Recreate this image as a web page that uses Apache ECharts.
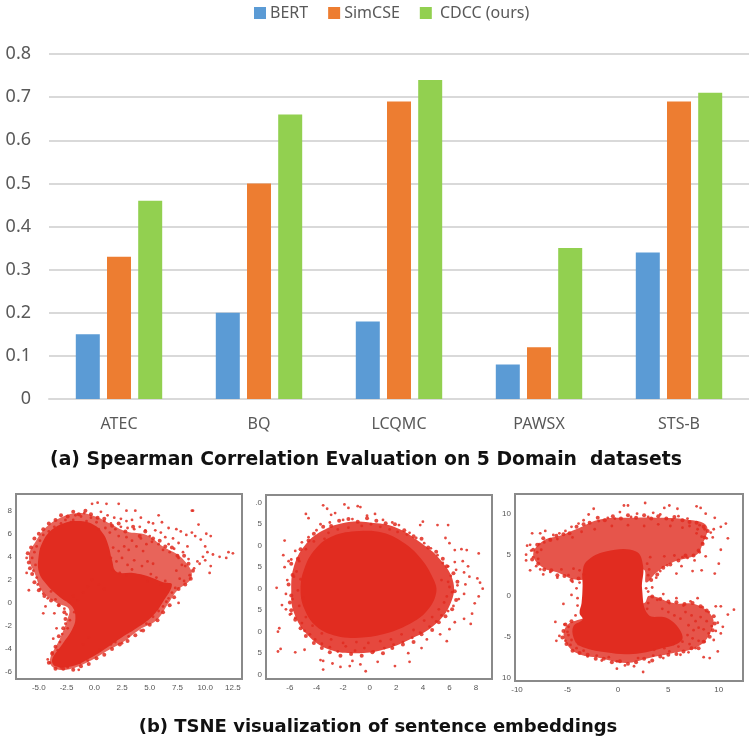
<!DOCTYPE html>
<html><head><meta charset="utf-8">
<style>html,body{margin:0;padding:0;background:#fff}#c{width:749px;height:740px;filter:blur(0.45px)}</style>
<script src="https://cdn.jsdelivr.net/npm/echarts@6/dist/echarts.min.js"></script></head>
<body><div id="c"></div>
<script>
const categories=['ATEC','BQ','LCQMC','PAWSX','STS-B'];
const bert=[0.15,0.2,0.18,0.08,0.34];
const simcse=[0.33,0.5,0.69,0.12,0.69];
const cdcc=[0.46,0.66,0.74,0.35,0.71];
const barTicks=[0,0.1,0.2,0.3,0.4,0.5,0.6,0.7,0.8];

const x1Ticks=[-5,-2.5,0,2.5,5,7.5,10,12.5];
const x1Labels=['-5.0','-2.5','0.0','2.5','5.0','7.5','10.0','12.5'];
const y1Ticks=[8,6,4,2,0,-2,-4,-6];
const y1Labels=['8','6','4','2','0','-2','-4','-6'];
const x2Ticks=[-6,-4,-2,0,2,4,6,8];
const x2Labels=['-6','-4','-2','0','2','4','6','8'];
const y2Ticks=[10,7.5,5,2.5,0,-2.5,-5,-7.5,-10];
const y2Labels=['.0','5','0','5','0','5','0','5','0'];
const x3Ticks=[-10,-5,0,5,10];
const x3Labels=['-10','-5','0','5','10'];
const y3Ticks=[10,5,0,-5,-10];
const y3Labels=['10','5','0','-5','10'];

const core1=[[-5.0,4.2],[-4.7,5.2],[-4.0,6.2],[-2.8,6.9],[-1.4,7.1],[-0.1,6.8],[0.8,6.0],[1.3,4.9],[1.6,3.7],[2.0,2.7],[3.5,2.6],[4.9,2.3],[6.2,1.8],[7.0,1.6],[6.2,0.1],[5.2,-1.2],[3.8,-2.2],[2.3,-3.1],[1.1,-3.9],[-0.4,-4.8],[-2.0,-5.5],[-3.5,-5.5],[-3.8,-4.9],[-2.9,-3.6],[-2.0,-2.3],[-1.7,-1.3],[-2.0,-0.3],[-3.1,0.5],[-4.3,1.6],[-5.0,2.7]];
const mid1=[[-5.9,4.0],[-5.3,5.3],[-4.3,6.6],[-2.8,7.5],[-1.3,7.8],[0.1,7.5],[1.4,6.9],[2.9,6.2],[4.7,5.9],[6.2,4.9],[7.9,3.9],[8.8,2.3],[7.4,1.0],[6.7,0],[5.6,-1.5],[4.1,-2.3],[2.6,-3.4],[1.1,-4.2],[-0.7,-5.2],[-2.5,-5.8],[-3.7,-5.6],[-4.0,-4.9],[-3.1,-3.1],[-2.5,-1.6],[-2.3,-0.5],[-3.4,0],[-4.7,1.0],[-5.3,2.4]];
const edge1=[[-5.9,3.5],[-6.0,4.3],[-5.7,4.8],[-5.4,5.6],[-5.0,6.0],[-4.6,6.4],[-4.1,6.9],[-3.5,7.2],[-3.0,7.6],[-2.4,7.5],[-1.9,7.9],[-1.4,7.7],[-0.8,8.0],[-0.3,7.7],[0.3,7.4],[0.9,7.3],[1.6,6.7],[2.2,6.9],[2.8,6.2],[3.5,6.6],[4.1,5.8],[4.6,6.2],[5.3,5.6],[5.9,5.4],[6.4,4.9],[7.0,4.8],[7.5,4.1],[8.1,4.1],[8.5,3.4],[8.9,2.8],[8.7,2.1],[8.2,1.6],[7.6,1.2],[7.2,0.5],[6.8,-0.2],[6.2,-0.8],[5.7,-1.5],[5.0,-1.9],[4.4,-2.4],[3.7,-2.8],[3.0,-3.3],[2.3,-3.6],[1.6,-4.0],[0.9,-4.5],[0.2,-4.8],[-0.5,-5.3],[-1.2,-5.5],[-1.9,-5.8],[-2.8,-5.7],[-3.5,-5.7],[-4.1,-5.2],[-3.8,-4.4],[-3.5,-3.8],[-3.2,-2.9],[-2.8,-2.2],[-2.6,-1.4],[-2.7,-0.8],[-3.2,-0.2],[-3.9,0.2],[-4.5,0.6],[-5.0,1.1],[-5.4,1.8],[-5.6,2.5],[-5.8,3.0]];
const pts1=[[-0.2,8.6],[0.3,8.7],[1.1,8.6],[2.2,8.6],[8.8,8.0],[8.9,8.0],[2.9,8.0],[3.7,8.0],[5.8,7.6],[9.4,6.8],[12.5,4.3],[12.1,4.4],[11.9,3.9],[11.3,4.0],[10.1,6.0],[10.5,5.8],[10.5,3.2],[10.4,2.6],[7.6,0.0],[2.5,-3.5],[-1.4,-5.8],[-6.1,2.6],[-5.9,1.1],[-6.1,3.9],[-4.6,-0.9],[-3.7,-3.1],
[0.6,7.9],[1.2,7.6],[1.8,7.4],[2.4,7.3],[2.9,7.1],[3.4,7.2],[4.2,7.4],[4.9,7.0],[5.3,6.9],[6.1,7.0],[6.7,6.5],[7.4,6.4],[7.8,6.2],[8.3,5.9],[8.8,6.1],[9.1,5.8],[9.6,5.5],[10.0,4.9],[10.7,4.2],[10.2,4.4],[9.8,4.0],[9.3,3.6],[9.0,3.0],[8.6,2.4],[8.2,3.2],[8.0,4.4],[8.4,4.9],[7.6,5.2],[7.1,5.6],[6.7,5.1],[6.4,5.7],[6.0,6.1],[5.5,6.3],[5.0,5.8],[4.6,6.3],[4.1,6.6],[3.6,6.4],[3.0,6.5],[2.4,6.6],[1.9,6.4],[1.4,6.1],[1.0,6.5],[0.9,7.1],[1.5,6.9],[2.2,5.8],[2.9,5.7],[3.4,5.4],[4.2,5.6],[4.7,5.1],[5.2,5.3],[5.8,5.1],[6.2,4.6],[6.8,4.4],[7.2,4.7],[7.6,3.9],[7.9,3.3],[7.4,2.8],[7.7,2.1],[8.1,1.9],[7.3,1.3],[7.0,0.9],[6.7,0.4],[8.5,3.8],[9.5,3.4],[10.0,3.7],[1.7,4.8],[2.2,4.5],[2.7,4.9],[3.1,4.6],[3.8,4.9],[4.4,4.5],[1.5,3.9],[2.0,3.6],[2.5,3.9],[3.0,3.3],[3.6,3.7],[1.7,2.8],[2.3,2.6],[2.9,2.4],[3.4,2.9],[4.3,3.2],[4.8,3.6],[5.3,3.4],
[-5.4,4.4],[-5.6,3.9],[-5.3,3.3],[-5.5,2.8],[-5.2,2.2],[-5.1,1.6],[-4.9,1.2],[-4.6,0.8],[-4.2,0.4],[-3.9,1.0],[-3.5,0.3],[-3.2,-0.2],[-2.7,-0.5],[-2.5,-1.0],[-2.2,-1.5],[-2.4,-2.2],[-2.9,-2.7],[-3.1,-3.4],[-3.3,-4.1],[-3.8,-4.3],[-4.2,-4.9],[-4.0,-5.2],[-5.2,4.9],[-4.9,5.4],[-4.6,5.9],[-4.1,6.2],[-3.6,6.6],[-3.0,6.9],[-2.6,7.2],[-2.1,7.0],[-1.7,7.6],[-1.2,7.5],[-0.7,7.1],[-0.3,7.4],[0.2,7.0],[0.4,6.4],[-1.9,7.2],[-0.9,7.8],[-4.4,-0.3],[-3.6,-0.9],[-2.6,-1.8],[-3.4,-2.2],[-1.8,-0.8],[-2.3,0.1],[-1.5,0.2],[-1.0,0.9],[-1.9,0.6],[-0.6,1.4],[-0.2,2.0],[0.4,1.6],[0.9,1.2],[-0.5,-3.0],[-1.0,-3.6],[0.5,-4.1],[1.5,-3.6],[1.9,-3.4],[-0.6,-5.0],[-1.3,-5.2],[-2.4,-5.6],[-3.0,-5.6],[3.1,-2.9],[4.2,-2.4],[4.7,-1.8],[5.3,-1.2],[5.8,-0.7],[6.2,-0.3],[6.5,0.1],[6.0,1.6],[6.4,1.9],[4.8,1.9],[5.6,2.2],[5.1,2.5],[4.4,2.3]];

const core2=[[-5.2,-0.1],[-4.9,2.4],[-4.1,4.6],[-2.8,6.1],[-0.8,6.7],[1.0,6.5],[2.5,5.4],[3.8,3.6],[4.8,1.1],[5.0,-0.5],[4.3,-2.6],[3.0,-4.1],[1.0,-5.3],[-0.8,-5.7],[-2.5,-5.5],[-4.0,-4.4],[-4.9,-2.4]];
const mid2=[[-5.9,-0.1],[-5.7,2.6],[-4.9,5.0],[-3.6,6.7],[-1.8,7.7],[0,7.7],[2.0,7.1],[3.8,5.4],[5.3,3.4],[6.3,0.7],[6.0,-2.0],[4.8,-4.3],[3.0,-5.9],[1.0,-7.1],[-1.0,-7.5],[-3.0,-7.1],[-4.6,-5.5],[-5.7,-2.8]];
const edge2=[[-5.9,-0.8],[-6.1,0.5],[-5.8,1.6],[-5.9,2.9],[-5.4,3.5],[-5.2,4.6],[-4.6,5.6],[-4.2,6.4],[-3.5,7.2],[-2.9,7.3],[-2.3,7.9],[-1.6,8.1],[-0.9,7.8],[-0.2,8.2],[0.5,7.9],[1.2,7.6],[1.9,7.5],[2.6,6.8],[3.3,6.1],[3.9,5.8],[4.4,4.8],[5.0,4.3],[5.5,3.5],[5.8,2.6],[6.3,1.8],[6.6,0.8],[6.4,-0.3],[6.5,-1.3],[6.2,-2.4],[5.7,-3.2],[5.2,-3.9],[4.7,-4.8],[3.9,-5.3],[3.3,-6.2],[2.5,-6.5],[1.7,-6.9],[1.0,-7.5],[0.2,-7.4],[-0.6,-7.8],[-1.4,-7.6],[-2.2,-7.8],[-3.0,-7.4],[-3.6,-6.9],[-4.2,-6.3],[-4.8,-5.5],[-5.2,-4.6],[-5.6,-3.6],[-5.9,-2.5],[-6.0,-1.6]];
const pts2=[[-3.5,9.7],[-3.2,9.3],[-2.6,8.8],[-1.9,9.8],[-1.6,9.4],[-0.9,9.6],[-0.7,9.5],[-2.9,8.6],[-4.8,8.7],[-4.6,8.2],[-6.4,5.6],[-6.5,3.9],[-6.1,3.2],[-6.4,2.5],[-6.2,1.0],[-7.0,0.1],[-6.3,-0.6],[-6.6,-1.9],[-6.3,-2.4],[-5.9,-2.9],[-6.0,-3.0],[-6.8,-4.6],[-6.9,-5.0],[-6.9,-7.3],[-6.7,-7.0],[-5.6,-7.4],[-4.9,-7.1],[-3.7,-8.3],[-3.5,-8.4],[-3.5,-9.4],[-2.8,-8.7],[-2.2,-9.1],[-1.5,-9.0],[-1.3,-8.4],[-0.3,-9.6],[-0.7,-8.8],[0.6,-8.5],[1.9,-9.0],[3.0,-8.5],[2.9,-7.5],[3.9,-6.9],[4.3,-5.9],[5.3,-5.3],[5.8,-6.1],[6.0,-4.7],[6.4,-3.9],[7.1,-3.5],[7.6,-4.1],[7.7,-2.9],[7.9,-1.7],[8.2,-0.9],[8.5,0],[8.3,0.7],[8.1,1.2],[8.2,4.1],[7.3,4.5],[6.9,4.6],[6.4,4.5],[6.0,5.3],[5.7,5.9],[5.1,7.4],[5.9,7.4],[4.0,7.8],[3.8,7.4],[3.0,6.5],[2.2,7.4],[1.7,7.7],[1.0,8.0],[0.4,8.7],[-0.2,8.5],[-1.3,8.1],[-2.0,8.0],[-3.0,7.7],[-3.7,7.5],[-4.0,6.8],[-4.6,6.0],[-5.1,5.4],[-5.6,4.4],[-5.9,3.4],[-5.5,2.0],[-5.7,1.4],[-5.4,-0.2],[-5.8,-1.2],[-5.3,-2.0],[-5.6,-3.4],[-5.1,-4.0],[-4.9,-4.9],[-4.5,-5.3],[-4.1,-5.9],[-3.6,-6.4],[-3.0,-6.8],[-2.4,-7.3],[-1.8,-6.7],[-1.1,-7.2],[-0.4,-6.9],[0.3,-7.3],[1.1,-6.9],[1.8,-6.5],[2.5,-6.2],[3.2,-5.7],[3.8,-5.1],[4.5,-4.4],[5.0,-3.8],[5.4,-3.1],[5.9,-2.6],[6.3,-2.0],[6.7,-1.2],[7.1,-0.6],[6.2,-0.4],[6.6,0.4],[7.2,0.5],[7.5,1.4],[7.1,1.9],[6.5,2.2],[6.1,1.5],[5.9,2.6],[6.4,3.1],[7.0,3.2],[7.4,2.6],[5.5,3.0],[5.1,3.9],[4.6,4.7],[4.1,5.3],[3.5,5.9],[2.8,6.3],[2.1,6.6],[1.5,6.9],[0.8,7.2],[0.1,7.5],[-0.6,7.3],[-1.6,7.1],[-2.4,6.9],[-3.1,6.5],[-3.4,5.8],[-4.2,5.5],[-4.8,4.6],[-5.3,3.2],[-5.2,1.1],[-5.0,-1.1],[-4.8,-3.3],[-4.3,-4.3],[-3.6,-5.2],[-2.9,-5.9],[-2.0,-6.3],[-1.0,-6.2],[-0.1,-6.3],[0.8,-6.1],[1.6,-5.9],[2.4,-5.3],[3.3,-4.8],[4.1,-3.7],[4.7,-3.3],[5.2,-2.4],[5.6,-1.6],[5.8,-0.9],[6.0,0.2],[5.4,1.0],[5.9,0.8]];

const core3=[[-3.6,-0.9],[-3.5,1.2],[-3.5,2.8],[-3.1,4.2],[-1.2,5.4],[1.8,5.4],[2.5,3.6],[2.4,0.8],[3.0,-2.3],[4.8,-2.7],[6.1,-4.1],[6.3,-5.5],[4.1,-6.5],[1.5,-7.1],[-1.2,-6.9],[-3.8,-6.1],[-4.4,-5.1],[-4.4,-3.7],[-3.5,-2.9],[-3.8,-2.1]];
const mid3=[[-8.4,5.0],[-7.4,6.7],[-5.8,7.3],[-3.8,8.3],[-1.8,9.3],[1.5,9.5],[4.1,9.5],[6.8,9.3],[8.8,8.5],[8.3,6.0],[7.8,5.0],[5.5,4.1],[3.8,2.8],[2.8,1.6],[2.5,3.2],[-3.1,2.0],[-4.4,2.0],[-5.9,2.8],[-7.4,3.4]];
const low3=[[3.1,0],[5.5,-0.9],[7.8,-1.1],[9.4,-2.7],[9.1,-4.7],[7.8,-6.3],[5.5,-7],[3.1,-7.6],[0.8,-8.2],[-1.8,-7.6],[-4.1,-7],[-5.3,-5.3],[-5.1,-3.7],[-3.8,-2.9],[2.6,-0.9]];
const edge3=[[-8.4,5.6],[-8.0,6.2],[-7.4,7.0],[-6.7,6.8],[-6.1,7.3],[-5.4,7.5],[-4.8,7.6],[-4.1,8.4],[-3.4,8.7],[-2.8,8.9],[-2.0,9.5],[-1.3,9.2],[-0.5,9.7],[0.3,9.4],[1.0,9.8],[1.8,9.5],[2.6,9.8],[3.3,9.4],[4.0,9.7],[4.8,9.4],[5.6,9.6],[6.4,9.2],[7.1,9.0],[7.8,8.9],[8.5,8.4],[8.9,7.9],[8.6,7.1],[8.4,6.3],[8.0,5.5],[7.5,4.9],[6.7,4.9],[6.0,4.3],[5.2,3.8],[4.5,3.4],[3.9,2.6],[3.3,1.9],[-3.9,2.1],[-4.6,1.9],[-5.3,2.4],[-6.0,2.5],[-6.6,3.1],[-7.3,3.2],[-7.9,3.9],[-8.5,4.4],[3.4,-0.1],[4.2,-0.4],[5.0,-0.7],[5.8,-0.8],[6.6,-1.0],[7.4,-0.9],[8.2,-1.3],[8.8,-1.8],[9.5,-2.5],[9.6,-3.4],[9.4,-4.2],[9.1,-5.0],[8.5,-5.6],[8.0,-6.4],[7.3,-6.4],[6.5,-6.8],[5.8,-7.1],[5.0,-7.2],[4.2,-7.4],[3.4,-7.9],[2.6,-7.7],[1.8,-8.1],[1.0,-8.3],[0.2,-8.0],[-0.6,-8.1],[-1.4,-7.7],[-2.2,-7.7],[-3.0,-7.2],[-3.8,-7.0],[-4.5,-6.7],[-5.1,-5.9],[-5.5,-5.1],[-5.4,-4.3],[-5.2,-3.5],[-4.6,-3.1]];
const pts3=[[2.7,11.3],[1.0,11.0],[0.6,11.0],[5.1,11.0],[4.6,10.7],[5.9,10.6],[7.8,10.9],[8.2,10.7],[8.7,10.0],[9.6,9.5],[10.7,8.8],[10.2,8.4],[9.5,8.1],[9.2,7.7],[10.9,7.0],[10.2,5.6],[10.0,3.9],[9.6,2.7],[8.3,3.1],[8.7,4.8],[8.1,5.3],[8.4,6.4],[8.8,7.0],[7.8,7.6],[8.1,8.6],[7.1,8.5],[6.9,9.4],[6.0,9.7],[5.4,9.2],[4.2,9.9],[3.5,10.1],[3.0,9.6],[1.9,10.0],[1.3,9.6],[0.2,10.2],[-0.3,9.4],[-1.0,9.5],[-1.9,9.1],[-2.4,10.6],[-2.9,9.9],[-3.4,9.2],[-3.9,8.8],[-4.6,8.4],[-5.2,7.9],[-5.8,7.6],[-6.4,7.4],[-7.2,7.9],[-7.7,7.6],[-8.5,7.6],[-9.0,6.1],[-8.7,6.2],[-8.6,5.5],[-9.1,5.0],[-9.1,4.3],[-8.4,4.7],[-8.7,3.1],[-8.1,3.6],[-7.7,3.2],[-7.4,2.6],[-7.9,4.5],[-7.6,5.6],[-7.3,6.5],[-6.7,2.9],[-6.0,2.2],[-5.6,3.2],[-4.9,2.5],[-4.5,1.7],[-4.1,0.9],[-4.6,0.1],[-5.4,-1.0],[-4.0,-1.2],[-6.2,-3.2],[-5.3,-3.5],[-4.9,-3.8],[-5.8,-4.9],[-6.1,-5.5],[-5.2,-5.5],[-4.7,-6.0],[-4.1,-6.4],[-3.4,-6.7],[-3.0,-7.4],[-2.1,-7.3],[-1.6,-7.9],[-0.9,-7.5],[-0.1,-8.0],[-0.1,-8.9],[0.7,-8.5],[1.6,-8.6],[2.5,-9.3],[2.0,-7.6],[3.1,-8.1],[3.5,-7.3],[4.5,-7.6],[5.1,-6.8],[6.2,-7.2],[7.0,-6.9],[7.7,-6.4],[8.5,-7.5],[9.1,-7.6],[9.9,-6.8],[9.5,-5.4],[10.2,-4.6],[10.4,-3.8],[9.9,-3.3],[10.9,-2.3],[11.5,-1.7],[10.2,-1.3],[9.7,-1.3],[9.0,-2.0],[8.4,-1.4],[7.9,-0.3],[7.2,-0.7],[6.5,-1.2],[5.8,-0.3],[5.1,-0.9],[4.5,0.2],[3.9,-0.5],[3.4,1.0],[3.0,0.5],[3.0,2.5],[3.8,2.2],[4.2,3.0],[4.9,3.7],[5.8,2.7],[6.3,3.6],[6.9,4.6],[7.4,3.0],[3.2,4.7],[4.6,4.8],[5.6,4.9],[6.4,4.7],[7.6,4.3],[4.4,-1.6],[5.0,-2.0],[5.6,-2.4],[6.2,-2.8],[6.7,-2.0],[7.3,-2.4],[7.7,-3.1],[8.2,-2.6],[8.8,-3.1],[9.3,-3.7],[9.7,-4.3],[9.0,-4.6],[8.5,-4.1],[8.0,-3.9],[7.5,-4.2],[7.0,-3.6],[6.9,-4.8],[7.4,-5.2],[8.0,-5.5],[8.6,-5.6],[7.1,-5.9],[6.4,-5.6],[6.0,-6.2],[5.5,-5.9],[4.6,-6.4],[3.6,-6.6],[-4.9,-4.8],[-5.0,-4.4],[-4.6,-5.4],[-3.9,-5.9],[2.9,3.9],[3.1,3.2],[2.8,0.9],[3.0,-0.9],[2.9,-1.6],[-4.2,-2.4],[-4.0,-0.3],[-3.8,1.6],[-3.4,2.6],[-3.8,3.1],[-4.4,3.3],[8.3,7.2],[8.6,8.1],[9.4,7.1],[7.9,8.1],[6.4,8.3],[5.2,8.5],[4.0,8.7],[2.6,8.5],[1.0,8.6],[-0.6,8.5],[-2.3,8.1],[-3.6,7.8],[-4.5,7.1],[-6.0,6.9],[-6.7,6.9],[-8.0,5.3],[-7.8,6.3]];

const red='#E12C20';
function cust(outline,fill,g){return {type:'custom',xAxisIndex:g,yAxisIndex:g,silent:true,clip:true,data:outline,encode:{x:0,y:1},
 renderItem:(p,api)=>{if(p.dataIndex!==0)return null;return {type:'polygon',shape:{points:outline.map(c=>api.coord(c)),smooth:0.4},style:{fill:fill}};}};}
function dots(data,g,size){return {type:'scatter',xAxisIndex:g,yAxisIndex:g,silent:true,symbolSize:size,data:data,itemStyle:{color:red,opacity:0.85}};}
function lookup(t,l){return v=>{const i=t.indexOf(+v);return i<0?'':l[i];};}
const grids=[{left:49,top:54,width:702.5,height:345},
 {left:16,top:494,width:226,height:185,show:true,borderColor:'#8a8a8a',borderWidth:2,backgroundColor:'#fff'},
 {left:266,top:495,width:226,height:184,show:true,borderColor:'#8a8a8a',borderWidth:2,backgroundColor:'#fff'},
 {left:515,top:494,width:228,height:187,show:true,borderColor:'#8a8a8a',borderWidth:2,backgroundColor:'#fff'}];
function small(g,type,min,max,t,l){return {type:'value',gridIndex:g,min:min,max:max,splitLine:{show:false},axisLine:{show:false},axisTick:{show:false},
 axisLabel:{customValues:t,formatter:lookup(t,l),fontSize:8,color:'#555',margin:type==='x'?5:4,fontFamily:'Liberation Sans'}};}
const ff='"Noto Sans"';
const chart=echarts.init(document.getElementById('c'));
chart.setOption({animation:false,backgroundColor:'#fff',
 color:['#5B9BD5','#ED7D31','#92D050'],
 legend:{left:249,top:0,itemWidth:12,itemHeight:12,itemGap:20,icon:'rect',
  formatter:n=>n==='CDCC (ours)'?' '+n:n,
  textStyle:{fontFamily:ff,fontSize:16,color:'#595959',padding:[0,0,0,-1]},data:['BERT','SimCSE','CDCC (ours)']},
 title:[{text:'(a) Spearman Correlation Evaluation on 5 Domain  datasets',left:361,top:446,textAlign:'center',textStyle:{fontFamily:'DejaVu Sans',fontWeight:'bold',fontSize:18.8,color:'#111'}},
  {text:'(b) TSNE visualization of sentence embeddings',left:373,top:713,textAlign:'center',textStyle:{fontFamily:'DejaVu Sans',fontWeight:'bold',fontSize:18,color:'#111'}}],
 grid:grids,
 xAxis:[{type:'category',gridIndex:0,data:categories,axisLine:{lineStyle:{color:'#d9d9d9',width:2}},axisTick:{show:false},axisLabel:{fontFamily:ff,fontSize:16,color:'#595959',margin:17}},
  small(1,'x',-7.06,13.32,x1Ticks,x1Labels),small(2,'x',-7.8,9.2,x2Ticks,x2Labels),small(3,'x',-10.2,12.4,x3Ticks,x3Labels)],
 yAxis:[{type:'value',gridIndex:0,min:0,max:0.8,interval:0.1,axisLine:{show:false},axisTick:{show:false},splitLine:{lineStyle:{color:'#d9d9d9',width:2}},
   axisLabel:{fontFamily:ff,fontSize:18,color:'#595959',margin:18,formatter:v=>{const i=barTicks.findIndex(t=>Math.abs(t-v)<1e-6);return i===0?'0':String(barTicks[i]);}}},
  small(1,'y',-6.6,9.45,y1Ticks,y1Labels),small(2,'y',-10.5,10.9,y2Ticks,y2Labels),small(3,'y',-10.4,12.4,y3Ticks,y3Labels)],
 series:[{name:'BERT',type:'bar',data:bert,barWidth:24,barGap:'30%'},{name:'SimCSE',type:'bar',data:simcse,barWidth:24,barGap:'30%'},{name:'CDCC (ours)',type:'bar',data:cdcc,barWidth:24,barGap:'30%'},
  cust(mid1,'#E8645A',1),cust(core1,red,1),dots(edge1,1,4),dots(pts1,1,2.8),
  cust(mid2,'#E6483E',2),cust(core2,red,2),dots(edge2,2,4),dots(pts2,2,2.8),
  cust(mid3,'#E6554B',3),cust(low3,'#E6554B',3),cust(core3,red,3),dots(edge3,3,4),dots(pts3,3,2.8)]
});
</script></body></html>
